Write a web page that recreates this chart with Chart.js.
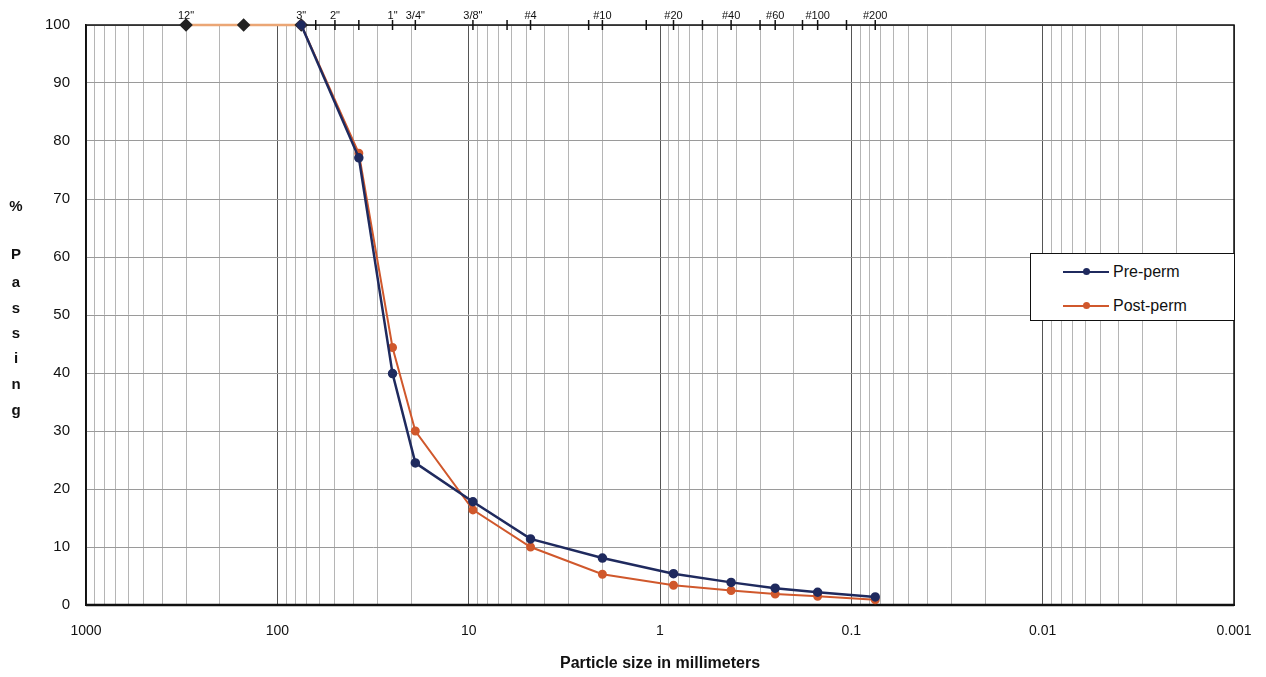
<!DOCTYPE html>
<html>
<head>
<meta charset="utf-8">
<script src="https://cdn.jsdelivr.net/npm/chart.js@4"></script>
<style>
  html, body { margin: 0; padding: 0; background: #fff; }
  #wrap { position: relative; width: 1266px; height: 677px; font-family: "Liberation Sans", Arial, sans-serif; }
  #ylab { position: absolute; left: 6px; top: 0; width: 20px; font-weight: bold; font-size: 15px; color: #111; }
  #ylab span { position: absolute; left: 0; width: 20px; text-align: center; transform: translateY(-50%); }
  #legend { position: absolute; left: 1030px; top: 253px; width: 205px; height: 68px; border: 1.5px solid #111; background: #fff; box-sizing: border-box; }
  .item { position: absolute; left: 82px; font-size: 16px; line-height: 18px; color: #111; }
  .sw { position: absolute; left: -50px; top: 8px; width: 46px; height: 2px; }
  .sw i { position: absolute; left: 20px; top: -3px; width: 7px; height: 7px; border-radius: 50%; }
</style>
</head>
<body>
<div id="wrap">
  <canvas id="grainChart" width="1266" height="677"></canvas>
  <div id="ylab">
    <span style="top:205px">%</span>
    <span style="top:253px">P</span>
    <span style="top:281px">a</span>
    <span style="top:307px">s</span>
    <span style="top:332px">s</span>
    <span style="top:357px">i</span>
    <span style="top:383px">n</span>
    <span style="top:409px">g</span>
  </div>
  <div id="legend">
    <div class="item" style="top:9px"><div class="sw" style="background:#1f2a5e"><i style="background:#1f2a5e"></i></div>Pre-perm</div>
    <div class="item" style="top:43px"><div class="sw" style="background:#d0582c"><i style="background:#d0582c"></i></div>Post-perm</div>
  </div>
</div>
<script>
// Tamanhos das peneiras (mm) usados nas duas curvas
const sieveSizes = [75, 37.5, 25, 19, 9.5, 4.75, 2, 0.85, 0.425, 0.25, 0.15, 0.075];
const prePerm  = [100, 77.1, 39.9, 24.5, 17.8, 11.4, 8.1, 5.4, 3.9, 2.9, 2.2, 1.4];
const postPerm = [100, 77.9, 44.4, 30.0, 16.4, 10.0, 5.3, 3.4, 2.5, 1.9, 1.5, 0.9];

// Marcadores no topo (12", 6", 3")
const topSizes = [300, 150, 75];
const topValues = [100, 100, 100];

// Peneiras do eixo superior
const topTickValues = [300, 75, 63, 50, 37.5, 25, 19, 9.5, 6.3, 4.75, 2.36, 2, 1.18, 0.85, 0.6, 0.425, 0.3, 0.25, 0.18, 0.15, 0.106, 0.075];
const topTickLabels = ['12"', '3"', '', '2"', '', '1"', '3/4"', '3/8"', '', '#4', '', '#10', '', '#20', '', '#40', '', '#60', '', '#100', '', '#200'];

const yTicks = [0, 10, 20, 30, 40, 50, 60, 70, 80, 90, 100];

function toPoints(xs, ys) {
    return xs.map((x, i) => ({ x: x, y: ys[i] }));
}

// todos os ticks 1..9 de cada década
const logTicks = [];
for (let e = 2; e >= -3; e--) {
    for (let m = 9; m >= 1; m--) {
        logTicks.push(Number((m * Math.pow(10, e)).toPrecision(3)));
    }
}
logTicks.unshift(1000);

function isDecade(v) {
    const l = Math.log10(v);
    return Math.abs(l - Math.round(l)) < 1e-6;
}

// borda da área do gráfico + marcas das peneiras cruzando a borda superior
const framePlugin = {
    id: 'frame',
    beforeDatasetsDraw(chart) {
        const { ctx, chartArea } = chart;
        const top = chart.scales.x2;
        ctx.save();
        ctx.strokeStyle = '#111';
        ctx.lineWidth = 1.5;
        ctx.strokeRect(chartArea.left, chartArea.top, chartArea.right - chartArea.left, chartArea.bottom - chartArea.top);
        ctx.lineWidth = 2.5;
        ctx.beginPath();
        ctx.moveTo(chartArea.left, chartArea.bottom);
        ctx.lineTo(chartArea.right, chartArea.bottom);
        ctx.stroke();
        ctx.lineWidth = 1.5;
        topTickValues.forEach(v => {
            const px = top.getPixelForValue(v);
            ctx.beginPath();
            ctx.moveTo(px, chartArea.top - 5);
            ctx.lineTo(px, chartArea.top + 5);
            ctx.stroke();
        });
        ctx.restore();
    }
};

const ctx = document.getElementById('grainChart').getContext('2d');
const grainChart = new Chart(ctx, {
    type: 'line',
    data: {
        datasets: [{
            label: 'Pre-perm',
            data: toPoints(sieveSizes, prePerm),
            borderColor: '#1f2a5e',
            backgroundColor: '#1f2a5e',
            borderWidth: 2.5,
            pointRadius: 3.5,
            clip: false
        }, {
            label: 'Post-perm',
            data: toPoints(sieveSizes, postPerm),
            borderColor: '#d0582c',
            backgroundColor: '#d0582c',
            borderWidth: 2,
            pointRadius: 3.5,
            clip: false
        }, {
            label: 'top',
            data: toPoints(topSizes, topValues),
            borderColor: '#eba675',
            backgroundColor: '#222',
            pointBorderColor: '#222',
            pointBackgroundColor: '#222',
            borderWidth: 2.5,
            pointStyle: 'rectRot',
            pointRadius: 5,
            clip: false
        }]
    },
    options: {
        responsive: false,
        animation: false,
        layout: { padding: { right: 32 } },
        plugins: {
            legend: { display: false },
            tooltip: { enabled: false }
        },
        scales: {
            x: {
                type: 'logarithmic',
                position: 'bottom',
                reverse: true,
                min: 0.001,
                max: 1000,
                afterBuildTicks: s => { s.ticks = logTicks.map(v => ({ value: v })); },
                afterFit: s => { s.height = 72; s.paddingLeft = 0; s.paddingRight = 0; },
                ticks: {
                    autoSkip: false,
                    maxRotation: 0,
                    padding: 18,
                    color: '#111',
                    font: { family: 'Liberation Sans', size: 14 },
                    callback: v => isDecade(v) ? String(v) : ''
                },
                grid: {
                    drawTicks: false,
                    color: c => (c.tick && isDecade(c.tick.value)) ? '#555' : '#b5b5b5',
                    lineWidth: 1
                },
                border: { color: '#111', width: 2 },
                title: {
                    display: true,
                    text: 'Particle size in millimeters',
                    color: '#111',
                    font: { family: 'Liberation Sans', size: 16, weight: 'bold' },
                    padding: { top: 14 }
                }
            },
            x2: {
                type: 'logarithmic',
                position: 'top',
                reverse: true,
                min: 0.001,
                max: 1000,
                afterBuildTicks: s => { s.ticks = topTickValues.map(v => ({ value: v })); },
                afterFit: s => { s.height = 25; s.paddingLeft = 0; s.paddingRight = 0; },
                ticks: {
                    autoSkip: false,
                    maxRotation: 0,
                    padding: 2,
                    color: '#111',
                    font: { family: 'Liberation Sans', size: 11 },
                    callback: (v, i) => topTickLabels[i]
                },
                grid: { display: false, drawTicks: false },
                border: { display: false }
            },
            y: {
                min: 0,
                max: 100,
                afterBuildTicks: s => { s.ticks = yTicks.map(v => ({ value: v })); },
                afterFit: s => { s.width = 86; },
                ticks: {
                    padding: 16,
                    color: '#111',
                    font: { family: 'Liberation Sans', size: 15 }
                },
                grid: { drawTicks: false, color: '#9a9a9a' },
                border: { color: '#111', width: 1.5 }
            }
        }
    },
    plugins: [framePlugin]
});
</script>
</body>
</html>
